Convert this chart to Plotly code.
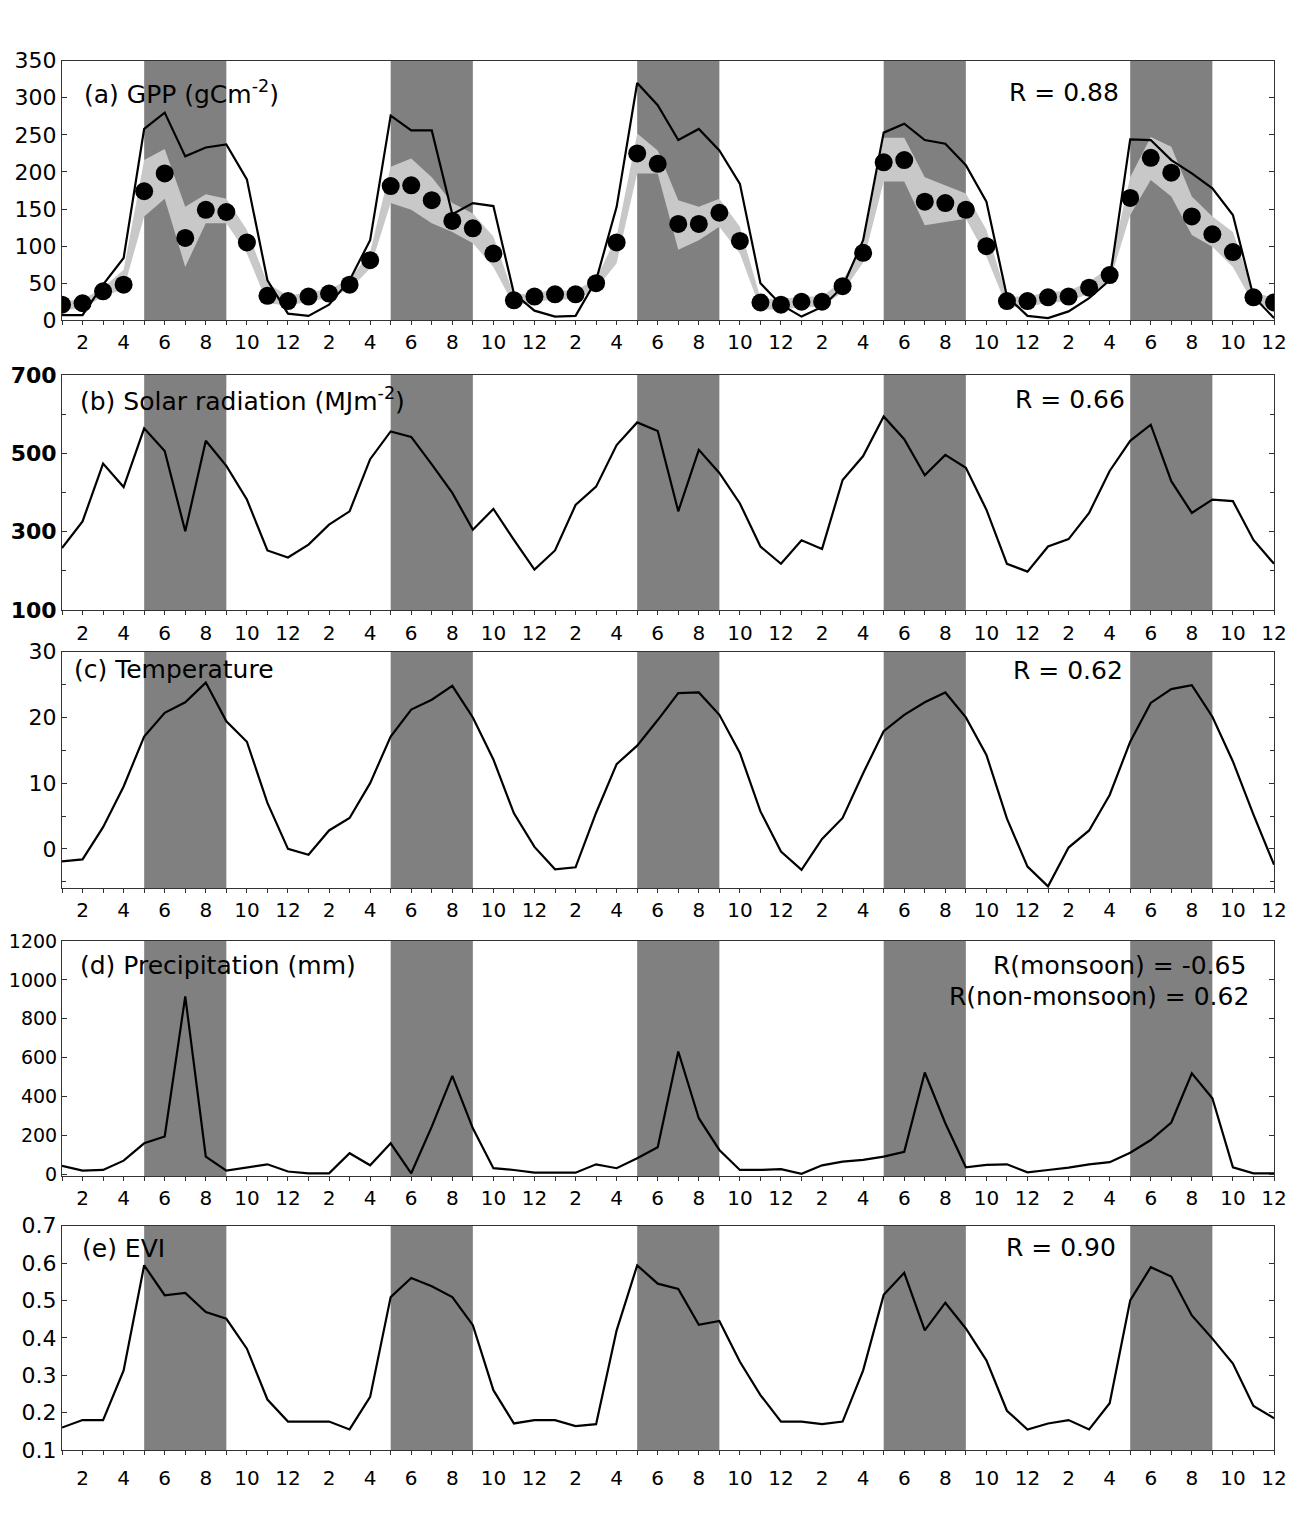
import plotly.graph_objects as go

PAGE_W, PAGE_H = 1297, 1515
OFF = 8  # default body margin of the html page
W, H = PAGE_W - 2 * OFF, PAGE_H - 2 * OFF

# ---------------- data ----------------
months = list(range(1, 61))
tick_text = ["", "2", "", "4", "", "6", "", "8", "", "10", "", "12"] * 5

monsoon_start = [5, 17, 29, 41, 53]
monsoon_end = [9, 21, 33, 45, 57]

gpp_model = [7, 7, 48, 84, 258, 280, 221, 233, 237, 190, 54, 9,
             6, 21, 54, 108, 276, 256, 256, 143, 158, 154, 36, 13,
             5, 6, 54, 153, 320, 290, 243, 258, 229, 184, 50, 21,
             5, 18, 45, 108, 253, 265, 243, 238, 209, 160, 32, 6,
             3, 12, 30, 54, 244, 243, 216, 198, 178, 142, 32, 3]

gpp_obs = [21, 23, 39, 48, 174, 198, 111, 149, 146, 105, 33, 26,
           32, 36, 48, 81, 181, 182, 162, 134, 124, 90, 27, 32,
           35, 35, 50, 105, 225, 211, 130, 130, 145, 107, 24, 21,
           25, 25, 46, 91, 213, 216, 160, 158, 149, 100, 26, 26,
           31, 32, 44, 61, 165, 219, 199, 140, 116, 92, 31, 24]

gpp_obs_low = [14, 16, 32, 42, 140, 164, 72, 131, 131, 90, 23, 20,
               25, 30, 42, 70, 158, 149, 131, 119, 104, 72, 20, 25,
               28, 28, 42, 77, 198, 198, 95, 108, 126, 90, 15, 14,
               18, 18, 38, 78, 187, 187, 128, 133, 137, 86, 18, 18,
               24, 25, 36, 52, 142, 189, 167, 115, 99, 72, 22, 18]

gpp_obs_high = [26, 28, 44, 68, 216, 231, 153, 170, 164, 122, 50, 33,
                38, 42, 55, 92, 207, 218, 193, 158, 144, 113, 33, 38,
                40, 40, 56, 113, 252, 229, 162, 153, 164, 126, 30, 28,
                32, 32, 54, 102, 246, 246, 193, 182, 171, 122, 32, 32,
                38, 40, 52, 72, 193, 247, 234, 167, 140, 119, 38, 30]

solar = [258, 326, 474, 414, 564, 506, 301, 532, 468, 382, 252, 234,
         267, 318, 352, 485, 556, 542, 472, 399, 305, 358, 279, 203,
         252, 368, 415, 521, 579, 557, 352, 509, 450, 372, 262, 218,
         278, 256, 432, 493, 594, 536, 444, 496, 463, 356, 218, 198,
         262, 281, 348, 455, 532, 573, 429, 348, 382, 378, 279, 218]

temperature = [-1.9, -1.6, 3.3, 9.5, 17.1, 20.7, 22.3, 25.3, 19.4, 16.3, 7.0, 0.0,
               -0.9, 2.8, 4.7, 10.0, 17.1, 21.2, 22.7, 24.8, 20.0, 13.6, 5.4, 0.3,
               -3.1, -2.8, 5.5, 12.9, 15.7, 19.6, 23.7, 23.8, 20.4, 14.6, 5.7, -0.4,
               -3.2, 1.5, 4.7, 11.5, 17.9, 20.4, 22.3, 23.8, 20.0, 14.3, 4.6, -2.7,
               -5.7, 0.2, 2.8, 8.2, 16.3, 22.2, 24.3, 24.9, 20.1, 13.3, 5.2, -2.4]

precipitation = [44, 20, 23, 71, 160, 195, 915, 92, 20, 37, 52, 15,
                 6, 6, 109, 47, 160, 6, 246, 507, 237, 32, 23, 9,
                 9, 9, 52, 32, 83, 140, 632, 289, 126, 23, 23, 27,
                 3, 47, 66, 75, 92, 116, 524, 263, 37, 49, 52, 11,
                 23, 35, 52, 63, 112, 177, 267, 520, 392, 37, 6, 6]

evi = [0.160, 0.180, 0.180, 0.313, 0.594, 0.514, 0.520, 0.469, 0.451, 0.371, 0.235, 0.176,
       0.176, 0.176, 0.155, 0.242, 0.509, 0.560, 0.538, 0.509, 0.434, 0.260, 0.171, 0.180,
       0.180, 0.164, 0.169, 0.420, 0.594, 0.545, 0.531, 0.435, 0.445, 0.336, 0.247, 0.176,
       0.176, 0.169, 0.176, 0.313, 0.515, 0.574, 0.420, 0.494, 0.425, 0.340, 0.205, 0.155,
       0.171, 0.180, 0.155, 0.225, 0.500, 0.589, 0.564, 0.460, 0.398, 0.331, 0.218, 0.185]

# ---------------- layout geometry (page pixels) ----------------
X0, X1 = 62, 1274
panels = [  # top, bottom (page px)
    (60.7, 320.3),
    (375.0, 610.0),
    (651.7, 888.3),
    (941.0, 1176.0),
    (1225.7, 1450.0),
]
yranges = [[0, 350], [100, 700], [-6, 30], [-8, 1200], [0.1, 0.7]]
ytickvals = [
    [0, 50, 100, 150, 200, 250, 300, 350],
    [100, 300, 500, 700],
    [0, 10, 20, 30],
    [0, 200, 400, 600, 800, 1000, 1200],
    [0.1, 0.2, 0.3, 0.4, 0.5, 0.6, 0.7],
]
yticktext = [
    ["0", "50", "100", "150", "200", "250", "300", "350"],
    ["100", "300", "500", "700"],
    ["0", "10", "20", "30"],
    ["0", "200", "400", "600", "800", "1000", "1200"],
    ["0.1", "0.2", "0.3", "0.4", "0.5", "0.6", "0.7"],
]
yminor = [None, 100, 5, None, None]
ytick_size = [22, 22, 22, 19, 22]
xlabel_standoff = [0, 1, 0, 0, 6]


def px_x(p):
    return (p - OFF) / W


def px_y(p):
    return 1 - (p - OFF) / H


FONT = "DejaVu Sans"
DARK = "rgb(128,128,128)"
BAND = "rgb(200,200,200)"

fig = go.Figure()

# GPP band
fig.add_trace(go.Scatter(x=months, y=gpp_obs_low, mode="lines", line=dict(width=0, color=BAND),
                         showlegend=False, hoverinfo="skip", xaxis="x", yaxis="y"))
fig.add_trace(go.Scatter(x=months, y=gpp_obs_high, mode="lines", line=dict(width=0, color=BAND),
                         fill="tonexty", fillcolor=BAND, showlegend=False, hoverinfo="skip",
                         xaxis="x", yaxis="y"))
fig.add_trace(go.Scatter(x=months, y=gpp_model, mode="lines", line=dict(color="black", width=2.2),
                         showlegend=False, xaxis="x", yaxis="y"))
fig.add_trace(go.Scatter(x=months, y=gpp_obs, mode="markers",
                         marker=dict(color="black", size=18, line=dict(width=0)),
                         showlegend=False, xaxis="x", yaxis="y"))

series = [solar, temperature, precipitation, evi]
for i, s in enumerate(series, start=2):
    fig.add_trace(go.Scatter(x=months, y=s, mode="lines", line=dict(color="black", width=2.2),
                             showlegend=False, xaxis=f"x{i}", yaxis=f"y{i}"))

layout = dict(
    width=W, height=H,
    margin=dict(l=0, r=0, t=0, b=0),
    paper_bgcolor="white", plot_bgcolor="white",
    showlegend=False,
    font=dict(family=FONT, color="black"),
)

shapes = []
for k, (top, bot) in enumerate(panels):
    i = k + 1
    sfx = "" if i == 1 else str(i)
    ydom = [px_y(bot), px_y(top)]
    xdom = [px_x(X0), px_x(X1)]
    layout[f"xaxis{sfx}"] = dict(
        domain=xdom, anchor=f"y{sfx}", range=[1, 60],
        tickmode="array", tickvals=months, ticktext=tick_text,
        ticks="outside", ticklen=4, tickwidth=1, tickcolor="#333",
        showline=True, linecolor="#333", linewidth=1, mirror=True,
        showgrid=False, zeroline=False, automargin=False,
        tickfont=dict(family=FONT, size=20, color="black"),
        ticklabelstandoff=xlabel_standoff[k],
    )
    # top overlay axis with inward ticks
    j = i + 5
    layout[f"xaxis{j}"] = dict(
        domain=xdom, anchor=f"y{sfx}", overlaying=f"x{sfx}", side="top", range=[1, 60],
        tickmode="array", tickvals=months, ticks="inside", ticklen=4, tickwidth=1,
        tickcolor="#333", showticklabels=False, showgrid=False, zeroline=False,
        showline=False, automargin=False,
    )
    yax = dict(
        domain=ydom, anchor=f"x{sfx}", range=yranges[k],
        tickmode="array", tickvals=ytickvals[k], ticktext=yticktext[k],
        ticks="inside", ticklen=5, tickwidth=1, tickcolor="#333",
        showline=True, linecolor="#333", linewidth=1, mirror="ticks",
        showgrid=False, zeroline=False, automargin=False,
        tickfont=dict(family=FONT, size=ytick_size[k], color="black"),
        ticklabelstandoff=0,
    )
    if yminor[k] is not None:
        yax["minor"] = dict(ticks="inside", dtick=yminor[k], ticklen=4, tickcolor="#333")
    if k == 1:
        yax["tickfont"] = dict(family=FONT, size=ytick_size[k], color="black", weight="bold")
    layout[f"yaxis{sfx}"] = yax
    for a, b in zip(monsoon_start, monsoon_end):
        shapes.append(dict(type="rect", xref=f"x{sfx}", yref=f"y{sfx} domain",
                           x0=a, x1=b, y0=0, y1=1, fillcolor=DARK,
                           line=dict(width=0), layer="below"))
layout["shapes"] = shapes


def ann(text, px, py, anchor):
    return dict(text=text, x=px_x(px), y=px_y(py), xref="paper", yref="paper",
                xanchor=anchor, yanchor="middle", showarrow=False,
                font=dict(family=FONT, size=25, color="black"))


layout["annotations"] = [
    ann("(a) GPP (gCm<sup>-2</sup>)", 82, 93, "left"),
    ann("R = 0.88", 1121, 93, "right"),
    ann("(b) Solar radiation (MJm<sup>-2</sup>)", 78, 399, "left"),
    ann("R = 0.66", 1127, 399, "right"),
    ann("(c) Temperature", 72, 669, "left"),
    ann("R = 0.62", 1125, 670, "right"),
    ann("(d) Precipitation (mm)", 78, 965, "left"),
    ann("R(monsoon) = -0.65", 1248, 965, "right"),
    ann("R(non-monsoon) = 0.62", 1251, 997, "right"),
    ann("(e) EVI", 80, 1248, "left"),
    ann("R = 0.90", 1118, 1247, "right"),
]

fig.update_layout(**layout)
fig.write_html("out.html")
